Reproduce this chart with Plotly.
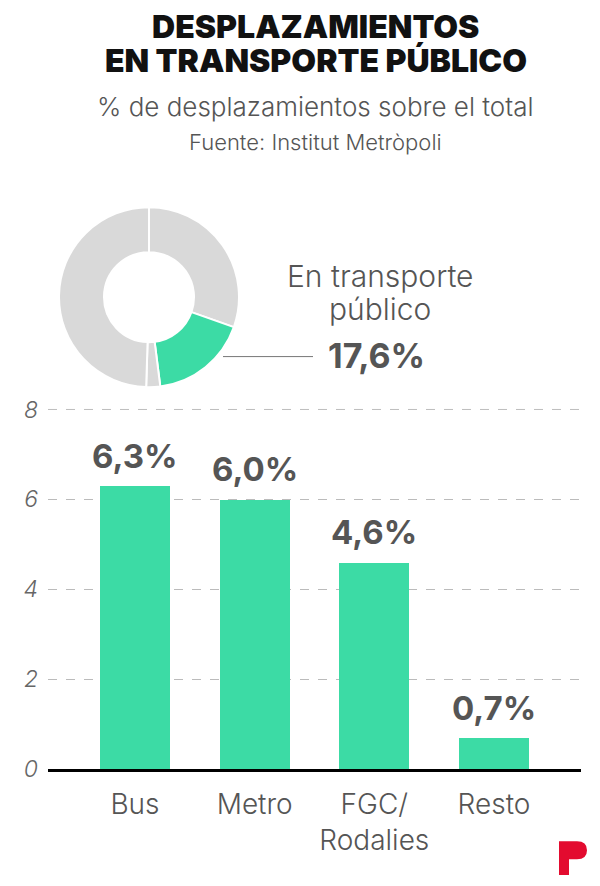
import plotly.graph_objects as go

W, H = 600, 886

# donut: share of all trips by mode (clockwise from 12 o'clock)
donut_labels = ["Otros modos A", "En transporte público", "Otros modos B", "Otros modos C"]
donut_values = [30.4, 17.6, 2.5, 49.5]
donut_colors = ["#d9d9d9", "#3cdba5", "#d9d9d9", "#d9d9d9"]

# bars: public transport breakdown
categories = ["Bus", "Metro", "FGC/<br>Rodalies", "Resto"]
values = [6.3, 6.0, 4.6, 0.7]
y_ticks = [0, 2, 4, 6, 8]

GREEN = "#3cdba5"
TEXT = "#555555"
FONT = "Inter"

# the captured page comes out squeezed vertically (about 0.97, 13px down),
# so target pixels read off the reference are mapped back to figure pixels
SQ, OFF = 0.9704, 13.1


def px(x):
    return x / W


def py(y):
    return 1 - ((y - OFF) / SQ) / H


fig = go.Figure()

fig.add_trace(go.Pie(
    labels=donut_labels, values=donut_values, hole=0.5, sort=False,
    direction="clockwise", rotation=0, textinfo="none",
    marker=dict(colors=donut_colors, line=dict(color="white", width=2)),
    domain=dict(x=[px(59), px(239)], y=[py(388), py(207)]),
    showlegend=False,
))

fig.add_trace(go.Bar(
    x=list(range(len(categories))), y=values, width=0.585,
    marker=dict(color=GREEN, line=dict(width=0)),
    showlegend=False, hovertemplate="%{y:.1f}%<extra></extra>",
))

# value labels above the bars
for i, v in enumerate(values):
    fig.add_annotation(
        x=i, y=v, xref="x", yref="y", text=f"{v:.1f}%".replace(".", ","),
        showarrow=False, yanchor="bottom", yshift=8,
        font=dict(family=FONT, size=33, weight=700, color=TEXT),
    )

# title block
fig.add_annotation(x=px(316), y=py(27), xref="paper", yref="paper",
                   text="DESPLAZAMIENTOS", showarrow=False, yanchor="middle",
                   font=dict(family=FONT, size=32, weight=900, color="#111111"))
fig.add_annotation(x=px(316), y=py(61), xref="paper", yref="paper",
                   text="EN TRANSPORTE PÚBLICO", showarrow=False, yanchor="middle",
                   font=dict(family=FONT, size=32, weight=900, color="#111111"))
fig.add_annotation(x=px(316), y=py(107), xref="paper", yref="paper",
                   text="% de desplazamientos sobre el total", showarrow=False,
                   yanchor="middle",
                   font=dict(family=FONT, size=26, weight=300, color=TEXT))
fig.add_annotation(x=px(316), y=py(142), xref="paper", yref="paper",
                   text="Fuente: Institut Metròpoli", showarrow=False,
                   yanchor="middle",
                   font=dict(family=FONT, size=22, weight=300, color=TEXT))

# donut callout
for txt, yy in [("En transporte", 276), ("público", 309)]:
    fig.add_annotation(x=px(380), y=py(yy), xref="paper", yref="paper",
                       text=txt, showarrow=False, yanchor="middle",
                       font=dict(family=FONT, size=30, weight=300, color=TEXT))
fig.add_annotation(x=px(376), y=py(356), xref="paper", yref="paper",
                   text=f"{donut_values[1]:.1f}%".replace(".", ","),
                   showarrow=False, yanchor="middle",
                   font=dict(family=FONT, size=34, weight=700, color=TEXT))
fig.add_shape(type="line", xref="paper", yref="paper",
              x0=px(223), x1=px(313), y0=py(357), y1=py(357),
              line=dict(color="#777777", width=1))

# top grid line (plotly drops the one sitting on the plot edge)
fig.add_shape(type="line", xref="x domain", yref="y", x0=0, x1=1,
              y0=y_ticks[-1], y1=y_ticks[-1], layer="below",
              line=dict(color="#bbbbbb", width=1, dash="dash"))

# logo
lx0, lx1, ly0, ly1 = 559, 587, 842, 876
logo = (f"M {px(lx0)},{py(ly0)} L {px(577)},{py(ly0)} "
        f"Q {px(lx1)},{py(ly0)} {px(lx1)},{py(851)} "
        f"Q {px(lx1)},{py(860)} {px(577)},{py(860)} "
        f"L {px(569)},{py(860)} L {px(569)},{py(ly1)} "
        f"L {px(lx0)},{py(ly1)} Z")
fig.add_shape(type="path", xref="paper", yref="paper", path=logo,
              fillcolor="#e30b2f", line=dict(width=0))

fig.update_layout(
    width=W, height=H, margin=dict(l=0, r=0, t=0, b=0),
    paper_bgcolor="white", plot_bgcolor="white",
    font=dict(family=FONT, color=TEXT),
    bargap=0,
    xaxis=dict(
        domain=[px(48), px(581)], range=[-0.727, 3.727],
        tickmode="array", tickvals=list(range(len(categories))),
        ticktext=categories, showgrid=False, zeroline=False,
        showline=True, linecolor="black", linewidth=3, ticks="",
        tickfont=dict(family=FONT, size=28, weight=300, color=TEXT),
        ticklabelstandoff=8, fixedrange=True,
    ),
    yaxis=dict(
        domain=[py(770), py(409)], range=[0, 8.02],
        tickvals=y_ticks, showgrid=True, gridcolor="#bbbbbb",
        griddash="dash", gridwidth=1, zeroline=False, showline=False,
        ticks="", ticklabelstandoff=9,
        tickfont=dict(family=FONT, size=23, weight=300, style="italic",
                      color="#666666"),
        fixedrange=True,
    ),
)

# drop the default body margin so the figure starts at the page corner
pin = (
    "var s=document.documentElement.style, b=document.body.style;"
    "s.margin=b.margin='0'; s.padding=b.padding='0';"
    "s.overflow=b.overflow='hidden';"
)
fig.write_html("out.html", config={"displayModeBar": False}, post_script=pin)
